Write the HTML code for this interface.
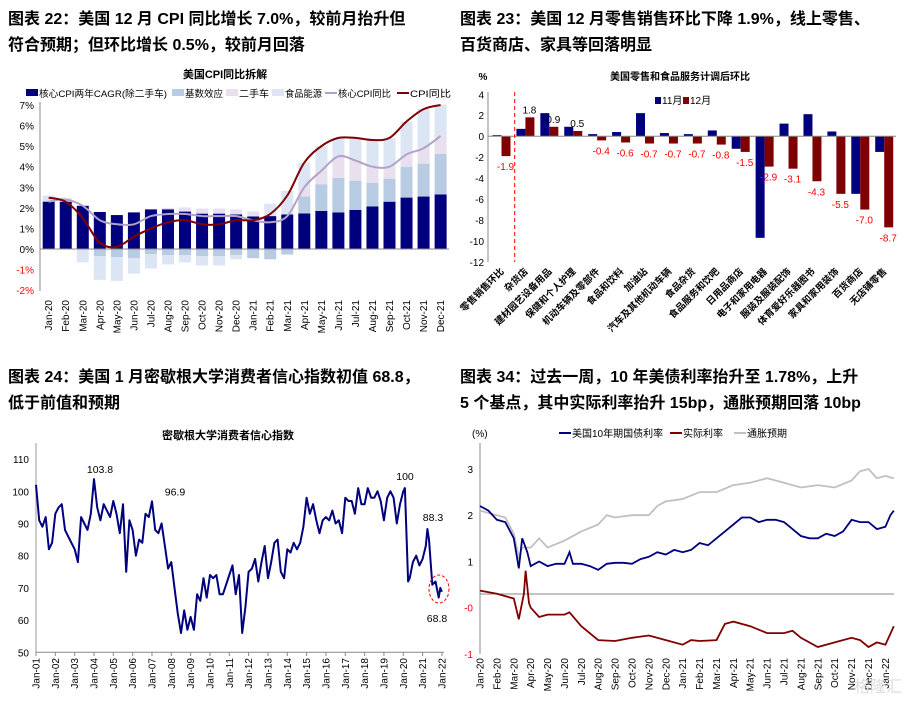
<!DOCTYPE html>
<html><head><meta charset="utf-8">
<style>
body{margin:0;background:#fff;}
svg{display:block;font-family:"Liberation Sans","Noto Sans CJK SC",sans-serif;}
.h{font-size:16px;font-weight:bold;fill:#000;}
</style></head><body>
<svg id="s" width="914" height="703" viewBox="0 0 914 703" xmlns="http://www.w3.org/2000/svg">
<text class="h" x="8" y="24">图表 22：美国 12 月 CPI 同比增长 7.0%，较前月抬升但</text>
<text class="h" x="8" y="50">符合预期；但环比增长 0.5%，较前月回落</text>
<text class="h" x="460" y="24">图表 23：美国 12 月零售销售环比下降 1.9%，线上零售、</text>
<text class="h" x="460" y="50">百货商店、家具等回落明显</text>
<text class="h" x="8" y="382">图表 24：美国 1 月密歇根大学消费者信心指数初值 68.8，</text>
<text class="h" x="8" y="408">低于前值和预期</text>
<text class="h" x="460" y="382">图表 34：过去一周，10 年美债利率抬升至 1.78%，上升</text>
<text class="h" x="460" y="408">5 个基点，其中实际利率抬升 15bp，通胀预期回落 10bp</text>
<g id="g1"></g>
<g id="g2"></g>
<g id="g3"></g>
<g id="g4"></g>
<text x="878" y="692" font-size="16" fill="#ddd" text-anchor="middle">格隆汇</text>
</svg>
<script>
// ---- Chart 1 data ----
const cpiMonths = ["Jan-20","Feb-20","Mar-20","Apr-20","May-20","Jun-20","Jul-20","Aug-20","Sep-20","Oct-20","Nov-20","Dec-20","Jan-21","Feb-21","Mar-21","Apr-21","May-21","Jun-21","Jul-21","Aug-21","Sep-21","Oct-21","Nov-21","Dec-21"];
const coreCagr = [2.3,2.3,2.1,1.8,1.65,1.78,1.93,1.93,1.82,1.72,1.72,1.68,1.58,1.6,1.68,1.73,1.85,1.78,1.9,2.07,2.3,2.5,2.55,2.65];
const baseEffect = [0.05,0,0,-0.35,-0.4,-0.45,-0.25,-0.3,-0.3,-0.35,-0.35,-0.3,-0.45,-0.5,-0.27,0.82,1.3,1.67,1.42,1.15,1.12,1.5,1.6,1.97];
const usedCars = [0,0,0,0,0,-0.05,0.02,0.07,0.2,0.25,0.25,0.25,0.25,0.2,0.05,0.45,0.65,1.05,1.0,0.8,0.58,0.6,0.75,0.9];
const foodEnergy = [0.25,0.2,-0.65,-1.15,-1.15,-0.7,-0.7,-0.45,-0.35,-0.45,-0.45,-0.2,0,0.4,1.1,1.2,1.2,0.9,1.1,1.3,1.4,1.6,1.9,1.5];
const coreCpi = [2.3,2.4,2.1,1.4,1.2,1.2,1.6,1.7,1.7,1.6,1.6,1.6,1.4,1.3,1.6,3.0,3.8,4.5,4.3,4.0,4.0,4.6,4.9,5.5];
const cpiYoy = [2.5,2.3,1.5,0.3,0.1,0.6,1.0,1.3,1.4,1.2,1.2,1.4,1.4,1.7,2.6,4.2,5.0,5.4,5.4,5.3,5.4,6.2,6.8,7.0];
const cpiTicks = [7,6,5,4,3,2,1,0,-1,-2];
// ---- Chart 2 data ----
const retailCats = ["零售销售环比","杂货店","建材园艺设备用品","保健和个人护理","机动车辆及零部件","食品和饮料","加油站","汽车及其他机动车辆","食品杂货","食品服务和饮吧","日用品商店","电子和家用电器","服装及服装配饰","体育爱好乐器图书","家具和家用装饰","百货商店","无店铺零售"];
const retailNov = [0.1,0.7,2.2,0.9,0.2,0.4,2.2,0.3,0.2,0.55,-1.2,-9.7,1.2,2.1,0.45,-5.5,-1.5];
const retailDec = [-1.9,1.8,0.9,0.5,-0.4,-0.6,-0.7,-0.7,-0.7,-0.8,-1.5,-2.9,-3.1,-4.3,-5.5,-7.0,-8.7];
const retailTicks = [4,2,0,-2,-4,-6,-8,-10,-12];
// ---- Chart 3 data (month index from Jan-01) ----
const umichMonth = [0,2,4,6,8,10,12,14,16,18,20,22,24,26,28,30,32,34,36,38,40,42,44,46,48,50,52,54,56,58,60,62,64,66,68,70,72,74,76,78,80,82,84,86,88,90,92,94,96,98,100,102,104,106,108,110,112,114,116,118,120,122,124,126,128,130,132,134,136,138,140,142,144,146,148,150,152,154,156,158,160,162,164,166,168,170,172,174,176,178,180,182,184,186,188,190,192,194,196,198,200,202,204,206,208,210,212,214,216,218,220,222,224,226,228,229,231,232,234,236,238,240,242,243,244,246,248,250,251,252];
const umichValue = [102,91,89,92,82,84,93,95,96,88,86,84,82,78,92,90,88,93,103.8,95,91,96,94,92,97,93,87,96,75,91,88,80,85,84,93,92,96.9,88,87,90,83,76,78,70,62,56,63,57,61,57,68,66,73,67,74,73,74,68,68,71,74,77,68,74,56,64,75,76,79,72,78,83,73,78,84,85,75,73,82,81,84,82,84,89,98,93,96,91,87,91,92,91,94,90,91,87,98,97,97,93,101,96,96,101,98,98,100,97,91,98,100,98,90,96,100,101,72,73,78,80,77,79,83,88.3,85,71,72,67,70,68.8];
const umichTicks = [110,100,90,80,70,60,50];
const umichYears = ["Jan-01","Jan-02","Jan-03","Jan-04","Jan-05","Jan-06","Jan-07","Jan-08","Jan-09","Jan-10","Jan-11","Jan-12","Jan-13","Jan-14","Jan-15","Jan-16","Jan-17","Jan-18","Jan-19","Jan-20","Jan-21","Jan-22"];
// ---- Chart 4 data (month index from Jan-20) ----
const ustT = [0,0.5,1,1.5,2,2.3,2.5,2.8,3,3.5,4,4.5,5,5.3,5.5,6,6.5,7,7.5,8,8.5,9,9.5,10,10.5,11,11.5,12,12.5,13,13.5,14,14.5,15,15.5,16,16.5,17,17.5,18,18.5,19,19.5,20,20.5,21,21.5,22,22.5,23,23.5,24,24.3,24.5];
const ust10y = [2.2,2.1,1.9,1.85,1.5,0.85,1.5,1.2,0.9,1.0,0.9,0.95,0.95,1.2,0.95,0.95,0.9,0.82,0.95,0.97,0.97,0.95,1.05,1.1,1.2,1.15,1.25,1.2,1.25,1.4,1.35,1.5,1.65,1.8,1.95,1.95,1.85,1.9,1.9,1.85,1.7,1.55,1.5,1.5,1.6,1.55,1.65,1.9,1.85,1.85,1.7,1.75,2.0,2.1];
const beT = [0,1,1.5,2,2.3,2.5,3,3.5,4,5,6,7,7.5,8,9,10,10.5,11,12,13,14,15,16,17,17.5,18,19,20,21,22,22.5,23,23.5,24,24.5];
const breakeven = [2.1,2.0,1.95,1.6,1.1,1.3,1.3,1.5,1.3,1.45,1.65,1.8,2.0,1.95,2.0,2.0,2.2,2.3,2.35,2.5,2.5,2.65,2.7,2.8,2.75,2.7,2.6,2.65,2.6,2.75,2.95,3.0,2.8,2.85,2.8];
const realT = [0,1,2,2.3,2.6,2.7,2.9,3,3.5,4,5,5.3,6,7,8,9,10,11,12,12.5,13,14,14.5,15,16,17,18,18.5,19,20,21,22,22.5,23,23.5,24,24.5];
const realRate = [0.37,0.3,0.2,-0.25,0.3,0.8,0.1,0,-0.2,-0.15,-0.15,-0.1,-0.4,-0.7,-0.72,-0.65,-0.6,-0.7,-0.8,-0.7,-0.72,-0.7,-0.35,-0.3,-0.4,-0.55,-0.55,-0.5,-0.65,-0.85,-0.75,-0.65,-0.7,-0.85,-0.75,-0.8,-0.4];
const ust4Ticks = [3,2,1,0,-1];
const ust4Labels = ["3","2","1","-0","-1"];
const ust4Months = ["Jan-20","Feb-20","Mar-20","Apr-20","May-20","Jun-20","Jul-20","Aug-20","Sep-20","Oct-20","Nov-20","Dec-20","Jan-21","Feb-21","Mar-21","Apr-21","May-21","Jun-21","Jul-21","Aug-21","Sep-21","Oct-21","Nov-21","Dec-21","Jan-22"];

const NS="http://www.w3.org/2000/svg";
function mk(parent,tag,attrs,txt){const e=document.createElementNS(NS,tag);for(const k in attrs)e.setAttribute(k,attrs[k]);if(txt!==undefined)e.textContent=txt;parent.appendChild(e);return e;}
function pathOf(xs,ys){return xs.map((x,i)=>(i?'L':'M')+x.toFixed(1)+','+ys[i].toFixed(1)).join('');}
function smoothPath(xs,ys){let d='M'+xs[0].toFixed(1)+','+ys[0].toFixed(1);
for(let i=0;i<xs.length-1;i++){const x0=xs[Math.max(i-1,0)],y0=ys[Math.max(i-1,0)],x1=xs[i],y1=ys[i],x2=xs[i+1],y2=ys[i+1],x3=xs[Math.min(i+2,xs.length-1)],y3=ys[Math.min(i+2,xs.length-1)];
d+=`C${(x1+(x2-x0)/6).toFixed(1)},${(y1+(y2-y0)/6).toFixed(1)} ${(x2-(x3-x1)/6).toFixed(1)},${(y2-(y3-y1)/6).toFixed(1)} ${x2.toFixed(1)},${y2.toFixed(1)}`;}
return d;}

// ===== Chart 1 =====
(function(){
const g=document.getElementById('g1');
const y=v=>249-v*20.57, x=i=>48.7+i*17.04;
let e;
e=mk(g,'text',{x:225,y:78,'font-size':11,'font-weight':'bold','text-anchor':'middle'},'美国CPI同比拆解');


const leg=[["rect","#00007f","核心CPI两年CAGR(除二手车)",26,128],["rect","#b7cbe3","基数效应",172,38],["rect","#e8e0ee","二手车",226,30],["rect","#dbe5f4","食品能源",272,37],["line","#b3a2c7","核心CPI同比",325,53],["line","#7f0000","CPI同比",397,41]];
leg.forEach(l=>{const lg=mk(g,'g',{});


if(l[0]==='rect')mk(lg,'rect',{x:l[3],y:89,width:12,height:7,fill:l[1]});else mk(lg,'line',{x1:l[3],x2:l[3]+12,y1:93,y2:93,stroke:l[1],'stroke-width':2});
mk(lg,'text',{x:l[3]+13,y:97,'font-size':9.5,textLength:l[4],lengthAdjust:'spacingAndGlyphs'},l[2]);});
cpiTicks.forEach(t=>{e=mk(g,'text',{x:34,y:y(t)+4,'font-size':10,'text-anchor':'end',fill:t<0?'#ff0000':'#000'},t+'%');

});
mk(g,'line',{x1:40,x2:40,y1:102,y2:291,stroke:'#888'});
const series=[[coreCagr,'#00007f'],[baseEffect,'#b7cbe3'],[usedCars,'#e8e0ee'],[foodEnergy,'#dbe5f4']];
cpiMonths.forEach((m,i)=>{let pos=0,neg=0;
series.forEach((s,k)=>{const v=s[0][i];if(!v)return;let y0,y1;
if(v>0){y0=pos;pos+=v;y1=pos;}else{y0=neg;neg+=v;y1=neg;}
const r=mk(g,'rect',{x:x(i)-6,y:Math.min(y(y0),y(y1)),width:12,height:Math.abs(y(y1)-y(y0)),fill:s[1]});

});
const tl=mk(g,'text',{transform:`translate(${x(i)+3.5},300) rotate(-90)`,'font-size':10,'text-anchor':'end'},m);

});
mk(g,'line',{x1:40,x2:449,y1:249,y2:249,stroke:'#888'});
const xs=cpiMonths.map((m,i)=>x(i));
e=mk(g,'path',{d:smoothPath(xs,coreCpi.map(y)),fill:'none',stroke:'#b3a2c7','stroke-width':2});


e=mk(g,'path',{d:smoothPath(xs,cpiYoy.map(y)),fill:'none',stroke:'#7f0000','stroke-width':2});


})();

// ===== Chart 2 =====
(function(){
const g=document.getElementById('g2');
const y=v=>136.2-v*10.48, cx=i=>501.5+i*23.92;
let e;
e=mk(g,'text',{x:680,y:80,'font-size':10,'font-weight':'bold','text-anchor':'middle'},'美国零售和食品服务计调后环比');


e=mk(g,'text',{x:483,y:80,'font-size':10,'font-weight':'bold','text-anchor':'middle'},'%');


[["#00007f","11月",655],["#7f0000","12月",683]].forEach(l=>{const lg=mk(g,'g',{});


mk(lg,'rect',{x:l[2],y:97,width:6,height:7,fill:l[0]});mk(lg,'text',{x:l[2]+7,y:104,'font-size':10},l[1]);});
retailTicks.forEach(t=>{e=mk(g,'text',{x:484,y:y(t)+4,'font-size':10,'text-anchor':'end'},t);

});
mk(g,'line',{x1:488,x2:488,y1:92,y2:262,stroke:'#888'});
retailCats.forEach((c,i)=>{
[[retailNov[i],'#00007f',-9],[retailDec[i],'#7f0000',0]].forEach((b,k)=>{const v=b[0];
const r=mk(g,'rect',{x:cx(i)+b[2],y:Math.min(y(0),y(v)),width:9,height:Math.abs(y(v)-y(0)),fill:b[1]});

});
const v=retailDec[i];
const lb=mk(g,'text',{x:cx(i)+4,y:v>=0?y(v)-4:y(v)+14,'font-size':10,'text-anchor':'middle',fill:v>=0?'#000':'#ff0000'},v.toFixed(1));


const tl=mk(g,'text',{transform:`translate(${cx(i)+3},272) rotate(-45)`,'font-size':9.5,'font-weight':'bold','text-anchor':'end'},c);

});
mk(g,'line',{x1:488,x2:896,y1:y(0),y2:y(0),stroke:'#888'});
e=mk(g,'line',{x1:514.7,x2:514.7,y1:92,y2:262,stroke:'#ff0000','stroke-dasharray':'4,3'});


})();

// ===== Chart 3 =====
(function(){
const g=document.getElementById('g3');
const y=v=>652.3-(v-50)*3.22, x=m=>36+m*19.33/12;
let e;
e=mk(g,'text',{x:228,y:439,'font-size':11,'font-weight':'bold','text-anchor':'middle'},'密歇根大学消费者信心指数');


umichTicks.forEach(t=>{e=mk(g,'text',{x:29,y:y(t)+4,'font-size':10,'text-anchor':'end'},t);

});
mk(g,'line',{x1:36,x2:36,y1:443,y2:652,stroke:'#bbb','stroke-width':1.5});
mk(g,'line',{x1:36,x2:444,y1:652.3,y2:652.3,stroke:'#888'});
umichYears.forEach((l,i)=>{mk(g,'line',{x1:x(i*12),x2:x(i*12),y1:652,y2:656,stroke:'#888'});
const tl=mk(g,'text',{transform:`translate(${x(i*12)+3.5},658) rotate(-90)`,'font-size':10,'text-anchor':'end'},l);

});
e=mk(g,'path',{d:pathOf(umichMonth.map(x),umichValue.map(y)),fill:'none',stroke:'#00007f','stroke-width':2,'stroke-linejoin':'round'});


[[36,"103.8",100,-6],[72,"96.9",175,-6],[229,"100",405,-8],[243,"88.3",433,-8],[252,"68.8",437,30]].forEach(a=>{
const t=mk(g,'text',{x:a[2],y:y(umichValue[umichMonth.indexOf(a[0])])+a[3],'font-size':10.5,'text-anchor':'middle'},a[1]);

});
e=mk(g,'ellipse',{cx:439,cy:589,rx:10,ry:14,fill:'none',stroke:'#ff0000','stroke-dasharray':'3,2'});


})();

// ===== Chart 4 =====
(function(){
const g=document.getElementById('g4');
const y=v=>607.7-v*46.25, x=m=>480+m*16.89;
let e;
e=mk(g,'text',{x:472,y:437,'font-size':10},'(%)');


[["#00007f","美国10年期国债利率",569],["#7f0000","实际利率",680],["#c0c0c0","通胀预期",744]].forEach(l=>{const lg=mk(g,'g',{});


mk(lg,'line',{x1:l[2]-10,x2:l[2]+2,y1:433,y2:433,stroke:l[0],'stroke-width':2});mk(lg,'text',{x:l[2]+3,y:437,'font-size':10},l[1]);});
ust4Ticks.forEach((t,i)=>{e=mk(g,'text',{x:473,y:y(t)+4,'font-size':10,'text-anchor':'end',fill:t<=0?'#ff0000':'#000'},ust4Labels[i]);

});
mk(g,'line',{x1:480,x2:480,y1:443,y2:654,stroke:'#888'});
mk(g,'line',{x1:480,x2:894,y1:594,y2:594,stroke:'#888'});
ust4Months.forEach((l,i)=>{const tl=mk(g,'text',{transform:`translate(${x(i)+3.5},658) rotate(-90)`,'font-size':10,'text-anchor':'end'},l);

});
e=mk(g,'path',{d:pathOf(beT.map(x),breakeven.map(y)),fill:'none',stroke:'#c0c0c0','stroke-width':1.8});


e=mk(g,'path',{d:pathOf(realT.map(x),realRate.map(y)),fill:'none',stroke:'#7f0000','stroke-width':1.8});


e=mk(g,'path',{d:pathOf(ustT.map(x),ust10y.map(y)),fill:'none',stroke:'#00007f','stroke-width':1.8});


})();
</script>
</body></html>
